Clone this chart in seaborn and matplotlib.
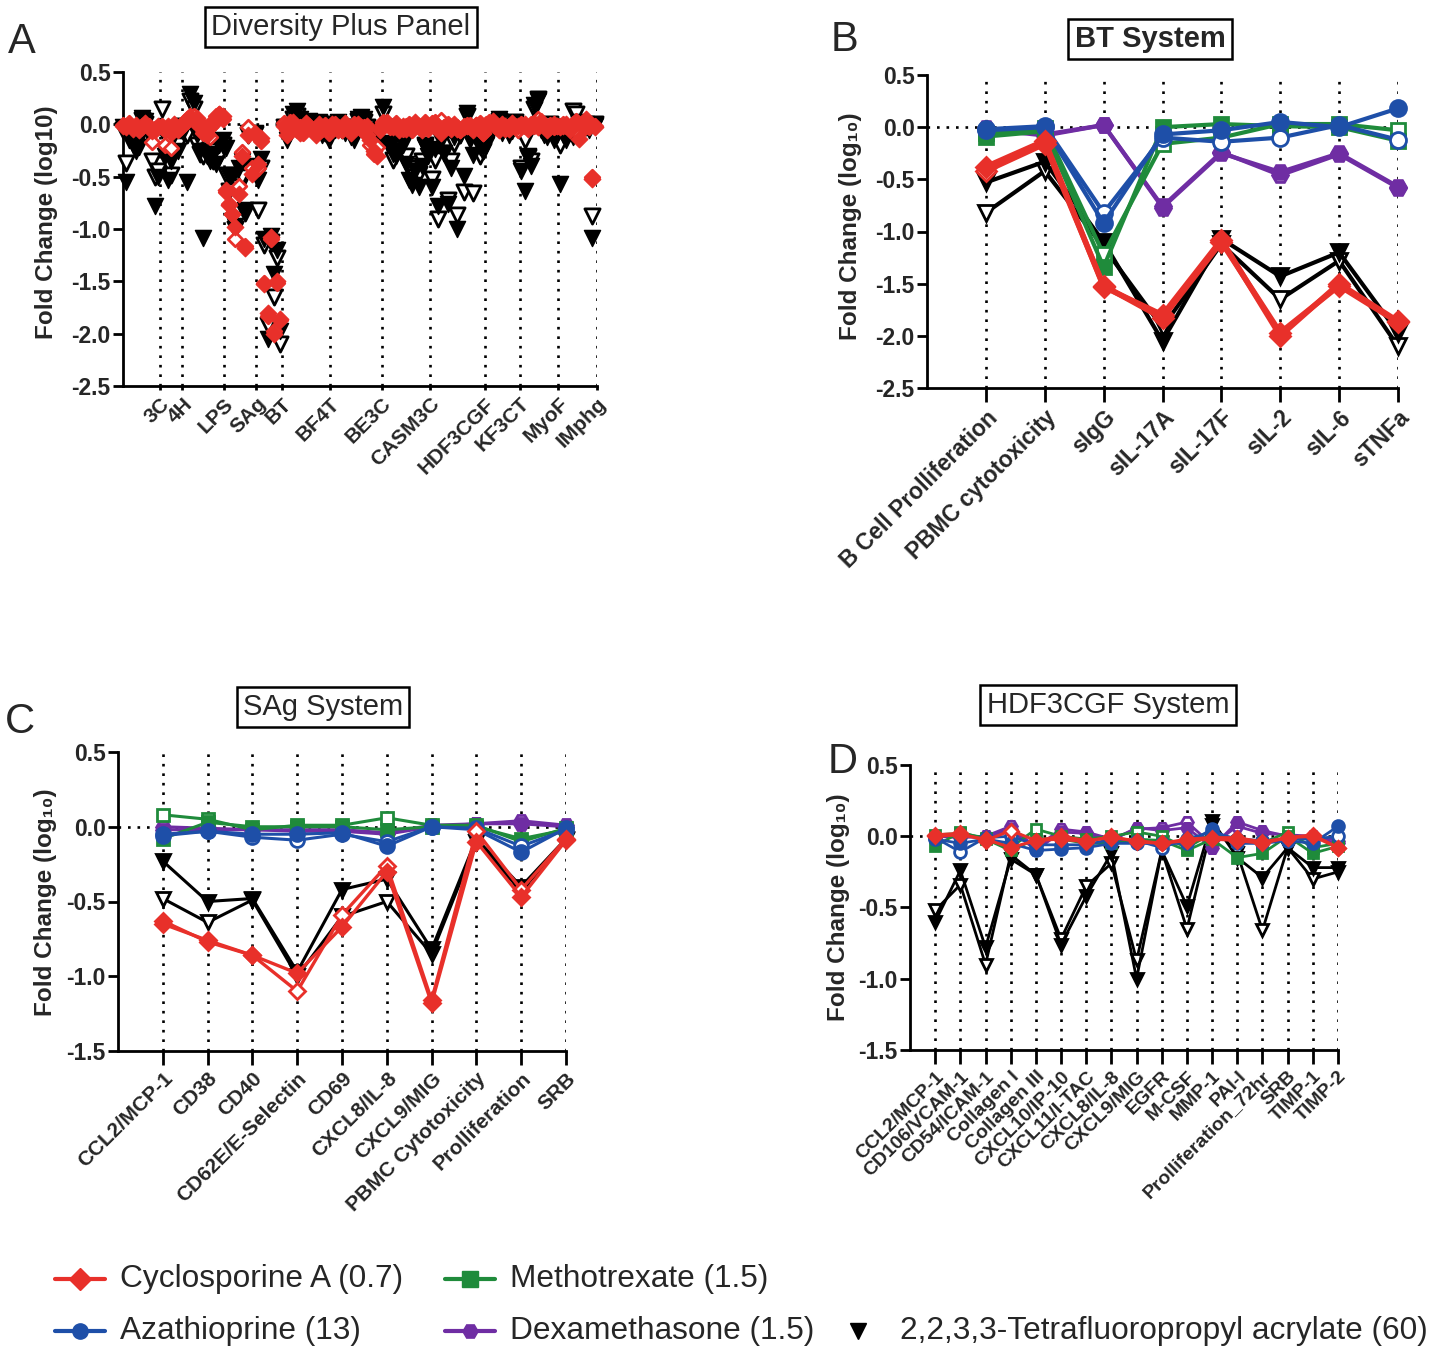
import numpy as np
import pandas as pd
import matplotlib
matplotlib.use("Agg")
import matplotlib.pyplot as plt
import seaborn as sns
from matplotlib.lines import Line2D

sns.set_theme(style="white")
plt.rcParams["font.family"] = ["Liberation Sans", "DejaVu Sans"]

# ---------------- colours ----------------
RED = "#E8302A"
GREEN = "#1F8B3B"
BLUE = "#1E4FA8"
PURPLE = "#6F2DA3"
BLACK = "#000000"

# ---------------- Panel B: BT system ----------------
bt_cats = ["B Cell Prolliferation", "PBMC cytotoxicity", "sIgG", "sIL-17A",
           "sIL-17F", "sIL-2", "sIL-6", "sTNFa"]
bt_cyc = [-0.38, -0.13, -1.53, -1.80, -1.08, -2.00, -1.50, -1.86]
bt_cyc_o = [-0.42, -0.16, -1.52, -1.83, -1.10, -1.97, -1.52, -1.87]
bt_mtx = [-0.09, -0.04, -1.34, 0.00, 0.03, 0.01, 0.00, -0.13]
bt_mtx_o = [-0.06, -0.01, -1.22, -0.16, -0.10, 0.03, 0.03, -0.03]
bt_aza = [-0.03, 0.00, -0.92, -0.07, -0.03, 0.05, 0.00, 0.18]
bt_aza_o = [-0.02, 0.01, -0.82, -0.10, -0.14, -0.10, 0.02, -0.12]
bt_dex = [-0.02, -0.08, 0.02, -0.77, -0.25, -0.43, -0.25, -0.57]
bt_dex_o = [-0.01, -0.07, 0.02, -0.76, -0.24, -0.46, -0.26, -0.58]
bt_tfp = [-0.53, -0.33, -1.10, -2.05, -1.07, -1.43, -1.20, -1.97]
bt_tfp_o = [-0.82, -0.42, -1.15, -1.92, -1.12, -1.65, -1.28, -2.10]

# ---------------- Panel C: SAg system ----------------
sag_cats = ["CCL2/MCP-1", "CD38", "CD40", "CD62E/E-Selectin", "CD69",
            "CXCL8/IL-8", "CXCL9/MIG", "PBMC Cytotoxicity", "Prolliferation", "SRB"]
sag_cyc = [-0.63, -0.77, -0.86, -0.98, -0.67, -0.30, -1.18, -0.10, -0.47, -0.09]
sag_cyc_o = [-0.65, -0.76, -0.86, -1.10, -0.59, -0.26, -1.16, -0.03, -0.42, -0.08]
sag_mtx = [-0.08, 0.03, 0.00, 0.00, 0.00, -0.02, 0.00, 0.00, -0.08, -0.02]
sag_mtx_o = [0.08, 0.05, -0.02, 0.01, 0.01, 0.06, 0.01, 0.01, -0.10, -0.01]
sag_aza = [-0.06, -0.03, -0.05, -0.05, -0.04, -0.13, 0.00, -0.02, -0.17, -0.01]
sag_aza_o = [-0.05, -0.03, -0.07, -0.09, -0.05, -0.10, 0.00, -0.01, -0.13, -0.02]
sag_dex = [-0.02, -0.02, -0.02, -0.03, -0.03, -0.05, 0.00, 0.02, 0.02, 0.00]
sag_dex_o = [0.00, -0.01, -0.02, -0.02, -0.02, -0.04, 0.01, 0.02, 0.04, 0.01]
sag_tfp = [-0.23, -0.50, -0.48, -0.97, -0.42, -0.35, -0.82, -0.08, -0.40, -0.08]
sag_tfp_o = [-0.48, -0.64, -0.49, -1.00, -0.60, -0.50, -0.85, -0.10, -0.43, -0.09]

# ---------------- Panel D: HDF3CGF system ----------------
hdf_cats = ["CCL2/MCP-1", "CD106/VCAM-1", "CD54/ICAM-1", "Collagen I", "Collagen III",
            "CXCL10/IP-10", "CXCL11/I-TAC", "CXCL8/IL-8", "CXCL9/MIG", "EGFR", "M-CSF",
            "MMP-1", "PAI-I", "Prolliferation_72hr", "SRB", "TIMP-1", "TIMP-2"]
hdf_cyc = [0.00, 0.01, -0.02, -0.08, -0.03, -0.02, -0.04, 0.00, -0.04, -0.05, -0.03,
           -0.02, -0.03, -0.05, -0.01, 0.00, -0.08]
hdf_cyc_o = [0.01, 0.02, -0.03, 0.04, -0.03, 0.00, -0.03, -0.01, -0.03, -0.05, -0.02,
             -0.01, -0.01, -0.04, -0.01, 0.01, -0.08]
hdf_mtx = [-0.07, 0.03, -0.02, -0.10, -0.02, -0.02, -0.05, -0.05, -0.02, -0.03, -0.10,
           -0.02, -0.15, -0.12, 0.00, -0.12, -0.07]
hdf_mtx_o = [0.01, 0.02, -0.01, -0.08, 0.05, 0.00, -0.02, 0.00, 0.03, 0.00, -0.08,
             0.02, -0.03, -0.05, 0.03, -0.08, -0.05]
hdf_aza = [-0.02, -0.05, -0.02, -0.05, -0.10, -0.09, -0.08, -0.05, -0.05, -0.05, -0.05,
           0.05, -0.05, -0.05, -0.03, -0.05, 0.07]
hdf_aza_o = [-0.01, -0.11, -0.01, 0.00, -0.06, -0.06, -0.06, -0.02, -0.03, -0.08, -0.02,
             0.03, -0.02, -0.03, -0.02, -0.02, 0.00]
hdf_dex = [0.00, 0.00, -0.01, 0.05, -0.10, 0.03, 0.02, -0.03, 0.06, 0.04, 0.06,
           -0.08, 0.10, 0.04, 0.00, -0.01, -0.05]
hdf_dex_o = [0.00, -0.01, 0.00, 0.07, -0.08, 0.05, 0.03, -0.02, 0.05, 0.06, 0.10,
             -0.06, 0.07, 0.02, 0.01, 0.00, -0.03]
hdf_tfp = [-0.60, -0.24, -0.78, -0.16, -0.27, -0.76, -0.42, -0.12, -1.00, -0.10, -0.49,
           0.11, -0.15, -0.29, -0.08, -0.22, -0.22]
hdf_tfp_o = [-0.52, -0.34, -0.90, -0.13, -0.27, -0.72, -0.35, -0.19, -0.87, -0.10, -0.65,
             0.08, -0.12, -0.66, -0.08, -0.30, -0.25]

# ---------------- Panel A: Diversity Plus (other systems) ----------------
a_systems = ["3C", "4H", "LPS", "SAg", "BT", "BF4T", "BE3C", "CASM3C",
             "HDF3CGF", "KF3CT", "MyoF", "IMphg"]

c3_cyc = [-0.02, -0.03, 0.00, -0.04, -0.01, -0.05, -0.02, 0.01, -0.03, -0.06, -0.04, -0.02]
c3_cyc_o = [-0.01, -0.02, 0.01, -0.03, -0.02, -0.04, -0.03, 0.00, -0.02, -0.17, -0.05, -0.03]
c3_tfp = [-0.03, -0.55, -0.15, -0.20, -0.25, -0.22, 0.06, 0.03, -0.10, -0.10, -0.78, -0.50]
c3_tfp_o = [-0.05, -0.37, -0.10, -0.15, -0.20, -0.12, 0.04, 0.00, -0.08, -0.35, -0.50, -0.45]

h4_cyc = [-0.03, -0.05, -0.02, -0.08, 0.00, -0.04, -0.03]
h4_cyc_o = [-0.02, -0.20, -0.04, -0.23, -0.02, -0.05, -0.02]
h4_tfp = [-0.05, -0.30, -0.53, -0.35, -0.10, -0.25, -0.05]
h4_tfp_o = [0.15, -0.25, -0.37, -0.48, -0.08, -0.20, -0.02]

lps_cyc = [0.02, 0.05, 0.08, 0.03, 0.06, 0.00, -0.05, -0.10, -0.03, 0.00, 0.05, 0.10, 0.08]
lps_cyc_o = [0.00, 0.03, 0.06, 0.08, 0.04, -0.02, -0.08, -0.03, -0.12, 0.03, 0.08, 0.10, 0.05]
lps_tfp = [-0.05, -0.55, 0.29, 0.20, -0.10, -0.25, -1.09, -0.30, -0.35, -0.28, -0.38, -0.20, -0.15]
lps_tfp_o = [-0.08, -0.10, 0.22, 0.15, -0.20, -0.28, -0.30, -0.25, -0.30, -0.35, -0.25, -0.30, -0.20]

bf4t_cyc = [-0.02, -0.10, 0.00, 0.02, -0.03, -0.08, -0.05, 0.01, -0.02, -0.06, -0.10, 0.00, -0.04, -0.02, -0.05]
bf4t_cyc_o = [0.01, -0.05, 0.02, -0.01, -0.05, -0.03, -0.08, 0.00, -0.03, -0.05, -0.07, -0.02, -0.03, -0.01, -0.08]
bf4t_tfp = [-0.05, -0.15, -0.08, 0.10, 0.13, 0.05, -0.05, 0.00, 0.03, -0.06, -0.02, 0.02, -0.10, -0.05, -0.15]
bf4t_tfp_o = [-0.03, -0.10, -0.05, 0.05, 0.08, 0.02, -0.03, -0.02, 0.00, -0.04, 0.00, 0.01, -0.05, -0.08, -0.10]

be3c_cyc = [0.00, -0.02, -0.05, -0.03, 0.01, -0.04, -0.08, -0.02, 0.00, -0.03, -0.06, -0.02, -0.15, -0.25, -0.30, -0.05]
be3c_cyc_o = [-0.01, 0.00, -0.03, -0.05, -0.02, -0.03, -0.05, 0.00, -0.02, -0.04, -0.03, -0.10, -0.20, -0.28, -0.22, -0.04]
be3c_tfp = [-0.02, -0.05, 0.02, -0.03, -0.08, -0.05, -0.12, -0.15, 0.05, 0.07, 0.05, -0.05, -0.10, -0.08, -0.12, -0.20]
be3c_tfp_o = [0.00, -0.03, 0.00, -0.05, -0.05, -0.03, -0.08, -0.10, 0.03, 0.05, 0.02, -0.03, -0.08, -0.05, -0.10, -0.15]

casm_cyc = [0.00, 0.02, -0.02, -0.03, 0.00, -0.05, -0.02, -0.04, -0.01, -0.03, 0.02, -0.02, -0.05, 0.00, -0.03]
casm_cyc_o = [0.02, 0.00, -0.03, -0.02, 0.01, -0.03, -0.04, -0.02, 0.00, -0.05, 0.00, -0.03, -0.02, 0.02, -0.04]
casm_tfp = [0.17, -0.18, -0.22, -0.28, -0.30, -0.25, -0.20, -0.38, -0.53, -0.58, -0.45, -0.60, -0.40, -0.22, -0.30]
casm_tfp_o = [0.10, -0.12, -0.20, -0.34, -0.25, -0.20, -0.15, -0.30, -0.42, -0.45, -0.50, -0.47, -0.35, -0.20, -0.25]

kf_cyc = [-0.02, 0.00, 0.03, -0.03, -0.05, 0.00, -0.02, -0.04, 0.01, -0.03, -0.02]
kf_cyc_o = [0.00, 0.02, 0.01, -0.02, -0.03, -0.01, -0.04, -0.02, 0.00, -0.02, -0.05]
kf_tfp = [-0.20, -0.10, -0.05, -0.02, 0.05, -0.08, -0.03, -0.10, -0.06, 0.00, -0.05]
kf_tfp_o = [-0.15, -0.08, -0.02, 0.00, 0.03, -0.05, -0.02, -0.06, -0.04, 0.02, -0.03]

myo_cyc = [-0.02, 0.00, -0.04, -0.02, 0.01, -0.03, 0.02, -0.01, -0.05, -0.03, 0.00, -0.02]
myo_cyc_o = [0.00, -0.02, -0.03, 0.00, -0.02, 0.05, 0.03, -0.02, -0.04, -0.01, -0.03, -0.02]
myo_tfp = [-0.45, -0.64, -0.30, -0.40, 0.18, 0.22, -0.05, -0.10, -0.12, -0.03, -0.15, -0.10]
myo_tfp_o = [-0.42, -0.15, -0.31, -0.35, 0.15, 0.24, -0.02, -0.08, -0.05, 0.00, -0.10, -0.08]

imp_cyc = [-0.03, -0.02, 0.00, -0.05, -0.02, 0.02, -0.14, -0.03, 0.05, -0.02, -0.52, -0.03]
imp_cyc_o = [-0.02, 0.00, -0.02, -0.03, 0.00, 0.03, -0.08, -0.01, 0.02, -0.03, -0.50, -0.02]
imp_tfp = [-0.57, -0.10, -0.15, -0.08, -0.12, -0.05, 0.02, -0.03, 0.00, -0.05, -1.09, -0.02]
imp_tfp_o = [-0.20, -0.05, -0.10, -0.05, 0.13, 0.10, 0.00, -0.02, -0.03, -0.03, -0.88, 0.00]

a_cyc = [c3_cyc, h4_cyc, lps_cyc, sag_cyc, bt_cyc, bf4t_cyc, be3c_cyc, casm_cyc,
         hdf_cyc, kf_cyc, myo_cyc, imp_cyc]
a_cyc_o = [c3_cyc_o, h4_cyc_o, lps_cyc_o, sag_cyc_o, bt_cyc_o, bf4t_cyc_o, be3c_cyc_o,
           casm_cyc_o, hdf_cyc_o, kf_cyc_o, myo_cyc_o, imp_cyc_o]
a_tfp = [c3_tfp, h4_tfp, lps_tfp, sag_tfp, bt_tfp, bf4t_tfp, be3c_tfp, casm_tfp,
         hdf_tfp, kf_tfp, myo_tfp, imp_tfp]
a_tfp_o = [c3_tfp_o, h4_tfp_o, lps_tfp_o, sag_tfp_o, bt_tfp_o, bf4t_tfp_o, be3c_tfp_o,
           casm_tfp_o, hdf_tfp_o, kf_tfp_o, myo_tfp_o, imp_tfp_o]

legend_labels = ["Cyclosporine A (0.7)", "Methotrexate (1.5)", "Azathioprine (13)",
                 "Dexamethasone (1.5)", "2,2,3,3-Tetrafluoropropyl acrylate (60)"]

# ---------------- figure ----------------
W, H = 1442, 1351
fig = plt.figure(figsize=(W / 100, H / 100), dpi=100)


def ax_px(left, right, top, bottom):
    return fig.add_axes([left / W, 1 - bottom / H, (right - left) / W, (bottom - top) / H])


DOT = (0, (1, 2.6))
DOT_LW = 1.9
SPW = 2.0


def style_axis(ax, ylim, yticks, ytick_fs, xtick_len):
    ax.set_facecolor("none")
    sns.despine(ax=ax)
    for s in ("left", "bottom"):
        ax.spines[s].set_linewidth(SPW)
        ax.spines[s].set_color("black")
    ax.set_ylim(*ylim)
    ax.set_yticks(yticks)
    ax.set_yticklabels([f"{v:.1f}" for v in yticks], fontsize=ytick_fs, fontweight="bold")
    ax.tick_params(axis="y", direction="out", length=7, width=SPW, color="black", pad=2, left=True)
    ax.tick_params(axis="x", direction="out", length=xtick_len, width=SPW, color="black", pad=3, bottom=True)
    ax.grid(False)


def set_ylab(ax, text, x, y, fs=17.5):
    ax.set_ylabel(text, fontsize=fs, fontweight="bold")
    ax.yaxis.set_label_coords(x / W, 1 - y / H, transform=fig.transFigure)


def line_panel(ax, cats, series, xfs):
    xs = np.arange(len(cats))
    for x in xs:
        ax.axvline(x, color="black", ls=DOT, lw=DOT_LW, zorder=0)
    ax.axhline(0, color="black", ls=DOT, lw=DOT_LW, zorder=0)
    for vals, color, marker, open_, lwi, msi in series:
        df = pd.DataFrame({"x": xs, "y": vals})
        sns.lineplot(data=df, x="x", y="y", ax=ax, color=color, lw=lwi,
                     marker=marker, markersize=msi,
                     markerfacecolor="white" if open_ else color,
                     markeredgecolor=color, markeredgewidth=2.0,
                     estimator=None, sort=False, clip_on=False)
    ax.set_xlim(-1, len(cats) - 1)
    ax.set_xticks(xs)
    ax.set_xticklabels(cats, rotation=45, ha="right", rotation_mode="anchor",
                       fontsize=xfs, fontweight="bold")
    ax.set_xlabel("")


def series_list(cyc, cyc_o, mtx, mtx_o, aza, aza_o, dex, dex_o, tfp, tfp_o, lw, ms, red_lw):
    return [
        (tfp_o, BLACK, "v", True, lw, ms),
        (tfp, BLACK, "v", False, lw, ms),
        (dex_o, PURPLE, "H", True, lw, ms),
        (dex, PURPLE, "H", False, lw, ms),
        (mtx_o, GREEN, "s", True, lw, ms * 0.9),
        (mtx, GREEN, "s", False, lw, ms * 0.9),
        (aza_o, BLUE, "o", True, lw, ms),
        (aza, BLUE, "o", False, lw, ms),
        (cyc_o, RED, "D", True, red_lw, ms * 0.85),
        (cyc, RED, "D", False, red_lw, ms * 0.85),
    ]


# ---------- Panel A ----------
axA = ax_px(123, 597, 72, 386)
rows = []
pos = 0
dividers = []
for sname, c, co, t, to in zip(a_systems, a_cyc, a_cyc_o, a_tfp, a_tfp_o):
    n = len(c)
    for i in range(n):
        rows.append((pos + i, c[i], co[i], t[i], to[i]))
    pos += n
    dividers.append(pos - 0.5)
dfA = pd.DataFrame(rows, columns=["x", "cyc", "cyc_o", "tfp", "tfp_o"])

for d in dividers:
    axA.axvline(d, color="black", ls=DOT, lw=DOT_LW, zorder=0)
axA.axhline(0, color="black", ls=DOT, lw=DOT_LW, zorder=0)
sns.scatterplot(data=dfA, x="x", y="tfp_o", ax=axA, marker="v", s=120, color="white",
                edgecolor=BLACK, linewidth=2.0, zorder=3, clip_on=False)
sns.scatterplot(data=dfA, x="x", y="tfp", ax=axA, marker="v", s=135, color=BLACK,
                edgecolor=BLACK, linewidth=1.0, zorder=3, clip_on=False)
sns.scatterplot(data=dfA, x="x", y="cyc_o", ax=axA, marker="D", s=55, color="white",
                edgecolor=RED, linewidth=2.0, zorder=4, clip_on=False)
sns.scatterplot(data=dfA, x="x", y="cyc", ax=axA, marker="D", s=70, color=RED,
                edgecolor=RED, linewidth=1.0, zorder=4, clip_on=False)
axA.set_xlim(0, dividers[-1])
style_axis(axA, (-2.5, 0.5), np.arange(-2.5, 0.51, 0.5), 16.5, 3)
axA.set_xticks(dividers)
axA.set_xticklabels(a_systems, rotation=45, ha="right", rotation_mode="anchor",
                    fontsize=15, fontweight="bold")
axA.set_xlabel("")
set_ylab(axA, "Fold Change (log10)", 58, 222)

# ---------- Panel B ----------
axB = ax_px(927, 1398, 75, 388)
line_panel(axB, bt_cats,
           series_list(bt_cyc, bt_cyc_o, bt_mtx, bt_mtx_o, bt_aza, bt_aza_o,
                       bt_dex, bt_dex_o, bt_tfp, bt_tfp_o, 3.0, 11.5, 4.0),
           16.5)
style_axis(axB, (-2.5, 0.5), np.arange(-2.5, 0.51, 0.5), 16.5, 10)
set_ylab(axB, "Fold Change (log\u2081\u2080)", 862, 226)

# ---------- Panel C ----------
axC = ax_px(118, 566, 752, 1051)
line_panel(axC, sag_cats,
           series_list(sag_cyc, sag_cyc_o, sag_mtx, sag_mtx_o, sag_aza, sag_aza_o,
                       sag_dex, sag_dex_o, sag_tfp, sag_tfp_o, 2.2, 10, 2.4),
           15)
style_axis(axC, (-1.5, 0.5), np.arange(-1.5, 0.51, 0.5), 16.5, 10)
set_ylab(axC, "Fold Change (log\u2081\u2080)", 57, 902)

# ---------- Panel D ----------
axD = ax_px(910, 1338, 765, 1050)
line_panel(axD, hdf_cats,
           series_list(hdf_cyc, hdf_cyc_o, hdf_mtx, hdf_mtx_o, hdf_aza, hdf_aza_o,
                       hdf_dex, hdf_dex_o, hdf_tfp, hdf_tfp_o, 2.0, 8.5, 2.2),
           14)
style_axis(axD, (-1.5, 0.5), np.arange(-1.5, 0.51, 0.5), 16.5, 10)
set_ylab(axD, "Fold Change (log\u2081\u2080)", 850, 907)

# ---------- titles & panel letters ----------
box = dict(boxstyle="square,pad=0.22", fc="white", ec="black", lw=1.8)
fig.text(341 / W, 1 - 27 / H, "Diversity Plus Panel", fontsize=21, ha="center", va="center", bbox=box)
fig.text(1150 / W, 1 - 39 / H, "BT System", fontsize=21, fontweight="bold", ha="center", va="center", bbox=box)
fig.text(323 / W, 1 - 707 / H, "SAg System", fontsize=21, ha="center", va="center", bbox=box)
fig.text(1108 / W, 1 - 705 / H, "HDF3CGF System", fontsize=21, ha="center", va="center", bbox=box)
for letter, x, y in [("A", 22, 42), ("B", 845, 40), ("C", 20, 722), ("D", 843, 762)]:
    fig.text(x / W, 1 - y / H, letter, fontsize=30, ha="center", va="center")

# ---------- legend ----------
leg_items = [
    (legend_labels[0], RED, "D", 80, 1279, 120, True),
    (legend_labels[1], GREEN, "s", 470, 1279, 510, True),
    (legend_labels[2], BLUE, "o", 80, 1331, 120, True),
    (legend_labels[3], PURPLE, "H", 470, 1331, 510, True),
    (legend_labels[4], BLACK, "v", 858, 1331, 900, False),
]
for label, color, marker, mx, my, tx, with_line in leg_items:
    if with_line:
        fig.add_artist(Line2D([(mx - 25) / W, (mx + 25) / W], [1 - my / H, 1 - my / H],
                              transform=fig.transFigure, color=color, lw=3))
    fig.add_artist(Line2D([mx / W], [1 - my / H], transform=fig.transFigure,
                          marker=marker, color=color, markersize=11 if marker != "v" else 12, lw=0))
    fig.text(tx / W, 1 - my / H, label, fontsize=22.8, ha="left", va="center")

fig.savefig("out.png", dpi=100, facecolor="white")
